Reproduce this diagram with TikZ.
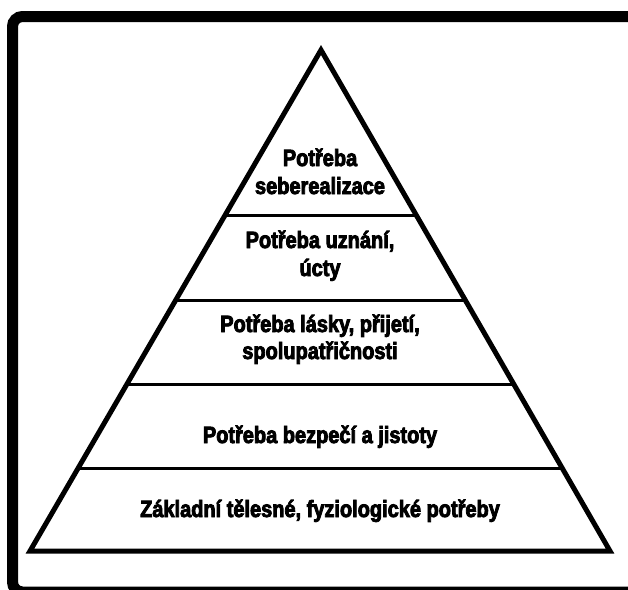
\documentclass[tikz,border=0pt]{standalone}
\usepackage{fontspec}
\usetikzlibrary{calc}
\newfontfamily\pyr[FakeStretch=0.85,FakeBold=3.5]{Liberation Sans Bold}
\begin{document}
\begin{tikzpicture}[x=1pt,y=-1pt,
  lvl/.style={font=\pyr\fontsize{23.5}{27}\selectfont, anchor=base, inner sep=0pt},
  side/.style={line width=5pt, line join=miter},
  divider/.style={line width=3pt},
  frame/.style={line width=11pt, rounded corners=10pt}]
\useasboundingbox (0,0) rectangle (628,589);
\coordinate (ftr) at (660,16.5);
\coordinate (ftl) at (12.5,16.5);
\coordinate (fbl) at (12.5,592);
\coordinate (fbr) at (660,592);
\draw[frame] (ftr) -- (ftl) -- (fbl) -- (fbr);
\coordinate (apex) at (321,50);
\coordinate (bl) at (30,551);
\coordinate (br) at (610,551);
\draw[side] (apex) -- (br) -- (bl) -- cycle;
\foreach \t/\n in {0.3313/a,0.499/b,0.6667/c,0.8363/d}{
  \coordinate (l\n) at ($(apex)!\t!(bl)$);
  \coordinate (r\n) at ($(apex)!\t!(br)$);
  \draw[divider] (l\n) -- (r\n);
}
\node[lvl] (n1a) at (320,166) {Potřeba};
\node[lvl] (n1b) at (320,194) {seberealizace};
\node[lvl] (n2a) at (320,248) {Potřeba uznání,};
\node[lvl] (n2b) at (320,276) {úcty};
\node[lvl] (n3a) at (320,332) {Potřeba lásky, přijetí,};
\node[lvl] (n3b) at (320,359) {spolupatřičnosti};
\node[lvl] (n4) at (320,443) {Potřeba bezpečí a jistoty};
\node[lvl] (n5) at (320,517) {Základní tělesné, fyziologické potřeby};
\end{tikzpicture}
\end{document}
